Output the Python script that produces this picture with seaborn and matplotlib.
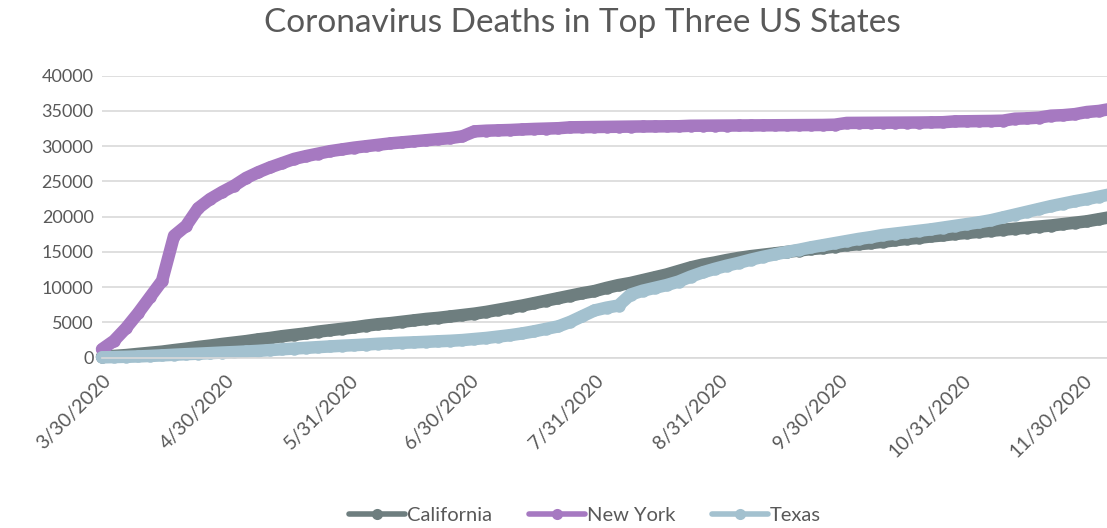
import numpy as np
import pandas as pd
import matplotlib
matplotlib.use("Agg")
import matplotlib.pyplot as plt
from matplotlib.lines import Line2D
import seaborn as sns

# ---------------- data (cumulative deaths, read every 3 days from 3/30/2020) ----------------
start_date = "2020-03-30"
step_days = 3

california = [150, 250, 370, 540, 700, 860, 1080, 1280, 1520, 1720,
              1950, 2150, 2350, 2600, 2800, 3050, 3250, 3450, 3700, 3900,
              4100, 4300, 4550, 4750, 4900, 5100, 5300, 5500, 5650, 5850,
              6050, 6250, 6500, 6800, 7100, 7400, 7750, 8100, 8450, 8800,
              9150, 9450, 9900, 10300, 10600, 11000, 11400, 11800, 12300, 12800,
              13200, 13500, 13850, 14150, 14400, 14600, 14800, 15000, 15200, 15400,
              15550, 15750, 15950, 16100, 16250, 16450, 16650, 16850, 17000, 17200,
              17350, 17550, 17700, 17850, 18000, 18150, 18300, 18450, 18600, 18750,
              18950, 19150, 19350, 19650, 19950]

new_york = [1200, 2400, 4200, 6300, 8600, 10900, 17300, 18700, 21200, 22500,
            23500, 24400, 25500, 26300, 27000, 27600, 28200, 28600, 28950, 29300,
            29550, 29800, 30000, 30200, 30400, 30550, 30700, 30850, 31000, 31150,
            31400, 32100, 32200, 32250, 32300, 32380, 32450, 32500, 32550, 32680,
            32700, 32720, 32740, 32760, 32780, 32800, 32810, 32820, 32830, 32900,
            32910, 32920, 32930, 32940, 32950, 32960, 32970, 32980, 32990, 33000,
            33010, 33050, 33300, 33310, 33320, 33330, 33340, 33350, 33360, 33380,
            33400, 33520, 33540, 33560, 33580, 33620, 33900, 33950, 34050, 34330,
            34400, 34550, 34850, 35000, 35300]

texas = [50, 90, 130, 180, 250, 330, 420, 500, 570, 650,
         730, 800, 880, 970, 1080, 1200, 1300, 1400, 1500, 1600,
         1700, 1780, 1870, 1980, 2050, 2120, 2180, 2250, 2330, 2400,
         2500, 2650, 2800, 3000, 3200, 3450, 3750, 4100, 4450, 5100,
         5900, 6700, 7100, 7400, 8950, 9500, 9900, 10300, 10800, 11500,
         12100, 12600, 13050, 13450, 13900, 14300, 14650, 15000, 15300, 15650,
         15950, 16250, 16550, 16850, 17100, 17400, 17600, 17800, 18000, 18200,
         18450, 18700, 18950, 19200, 19500, 19900, 20300, 20700, 21100, 21500,
         21850, 22200, 22500, 22850, 23200]

series_names = ["California", "New York", "Texas"]
series_colors = ["#6E7E7F", "#A679C1", "#A3C1CF"]

tick_dates = ["2020-03-30", "2020-04-30", "2020-05-31", "2020-06-30", "2020-07-31",
              "2020-08-31", "2020-09-30", "2020-10-31", "2020-11-30"]
tick_labels = ["3/30/2020", "4/30/2020", "5/31/2020", "6/30/2020", "7/31/2020",
               "8/31/2020", "9/30/2020", "10/31/2020", "11/30/2020"]
y_ticks = [0, 5000, 10000, 15000, 20000, 25000, 30000, 35000, 40000]
x_end = "2020-12-06"
title = "Coronavirus Deaths in Top Three US States"

# ---------------- build long table ----------------
dates = pd.date_range(start_date, periods=len(california), freq=f"{step_days}D")
df = pd.DataFrame({
    "date": np.tile(dates, 3),
    "deaths": california + new_york + texas,
    "state": np.repeat(series_names, len(dates)),
})

sns.set_theme(style="white")
plt.rcParams["font.family"] = ["Lato", "DejaVu Sans"]

W, H = 1107, 528
fig = plt.figure(figsize=(W / 100, H / 100), dpi=100)
left, right, top, bottom = 102, 1107, 75.7, 357.7
ax = fig.add_axes([left / W, 1 - bottom / H, (right - left) / W, (bottom - top) / H])

sns.lineplot(data=df, x="date", y="deaths", hue="state", hue_order=series_names,
             palette=dict(zip(series_names, series_colors)),
             marker="o", markersize=9, markeredgewidth=0, linewidth=9,
             solid_capstyle="round", solid_joinstyle="round",
             ax=ax, legend=False, clip_on=False)

grey_txt = "#595959"
grid_c = "#D9D9D9"
ax.set_ylim(0, 40000)
ax.set_xlim(pd.Timestamp(start_date), pd.Timestamp(x_end))
ax.set_yticks(y_ticks)
ax.set_yticklabels([str(v) for v in y_ticks])
ax.set_xticks(pd.to_datetime(tick_dates))
ax.set_xticklabels(tick_labels, rotation=45, ha="right", rotation_mode="anchor")
ax.set_xlabel("")
ax.set_ylabel("")
ax.yaxis.grid(True, color=grid_c, linewidth=1.2)
ax.xaxis.grid(False)
ax.set_axisbelow(True)
for s in ["top", "right", "left"]:
    ax.spines[s].set_visible(False)
ax.spines["bottom"].set_color(grid_c)
ax.spines["bottom"].set_linewidth(1.2)
ax.tick_params(axis="x", direction="out", length=6, width=1.2, color=grid_c,
               labelcolor=grey_txt, labelsize=14, pad=4)
ax.tick_params(axis="y", length=0, labelcolor=grey_txt, labelsize=13, pad=6)

fig.text(582 / W, 1 - 23 / H, title, ha="center", va="center",
         fontsize=24, color=grey_txt)

handles = [Line2D([0], [0], color=c, lw=4, marker="o", markersize=8,
                  markeredgewidth=0) for c in series_colors]
fig.legend(handles, series_names, loc="center", bbox_to_anchor=(585 / W, 1 - 515 / H),
           ncol=3, frameon=False, fontsize=14.5, handlelength=2.8, columnspacing=1.8,
           handletextpad=0.1, labelcolor=grey_txt)

fig.savefig("out.png", dpi=100)
